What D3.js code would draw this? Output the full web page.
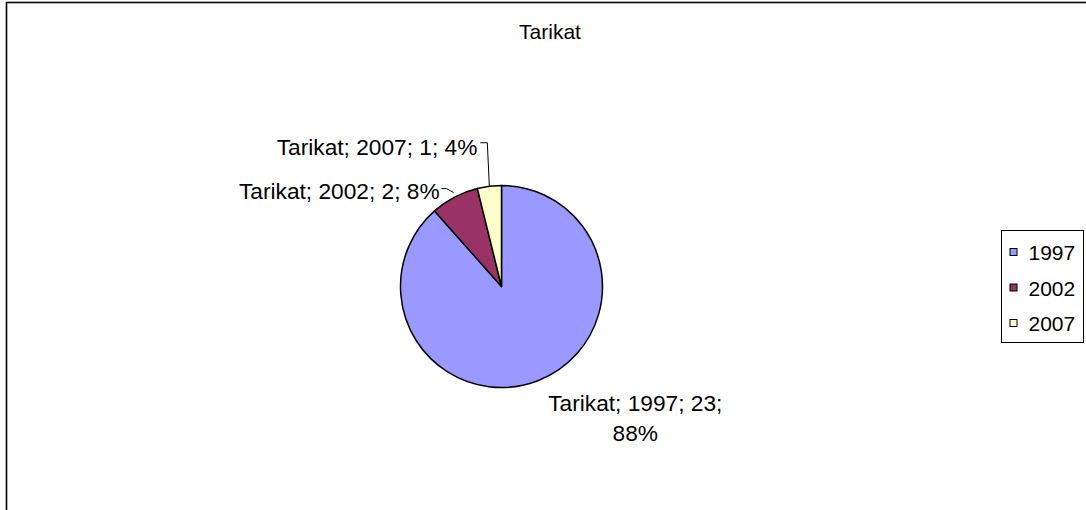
<!DOCTYPE html>
<html>
<head>
<meta charset="utf-8">
<script src="https://cdn.jsdelivr.net/npm/d3@7"></script>
<style>
  html, body { margin: 0; padding: 0; background: #fff; }
  svg { display: block; font-family: "Liberation Sans", Arial, sans-serif; }
</style>
</head>
<body>
<svg id="chart" width="1086" height="510"></svg>
<script>
// ---- data ----
const chartTitle = "Tarikat";
const seriesName = "Tarikat";
const categories = ["1997", "2002", "2007"];
const values = [23, 2, 1];
const colors = ["#9999FF", "#993366", "#FFFFCC"];

// ---- layout ----
const W = 1086, H = 510;
const cx = 501.5, cy = 286.5, R = 101;
const svg = d3.select("#chart");

// chart frame (extends beyond window on right/bottom)
svg.append("rect")
  .attr("x", 6.5).attr("y", 2.5)
  .attr("width", W + 40).attr("height", H + 40)
  .attr("fill", "#fff").attr("stroke", "#000").attr("stroke-width", 1.6);

// title
svg.append("text")
  .attr("x", 550).attr("y", 38.5)
  .attr("text-anchor", "middle")
  .attr("font-size", 21)
  .attr("fill", "#000")
  .text(chartTitle);

const total = d3.sum(values);
const data = categories.map((c, i) => ({ cat: c, value: values[i], color: colors[i] }));
const pie = d3.pie().value(d => d.value).sort(null);
const arcs = pie(data);
const arc = d3.arc().innerRadius(0).outerRadius(R);

const g = svg.append("g").attr("transform", `translate(${cx},${cy})`);
g.selectAll("path").data(arcs).enter().append("path")
  .attr("d", arc)
  .attr("fill", d => d.data.color)
  .attr("stroke", "#000")
  .attr("stroke-width", 1.5)
  .attr("stroke-linejoin", "round");

// data labels
const labelFont = 22.7;
const pct = v => Math.round(v / total * 100) + "%";
const edge = (a, r) => [cx + r * Math.sin(a), cy - r * Math.cos(a)];

// label placement offsets relative to slice's outer-edge midpoint
const labelLayout = [
  { dx: 98, dy: 30, anchor: "middle", lines: 2, leader: null },
  { dx: -15, dy: 1.5, anchor: "end", lines: 1, leader: [[2, -8.5], [7, -8.5], [-1, -4.5]] },
  { dx: -12, dy: -31.5, anchor: "end", lines: 1, leader: [[3, -43.5], [10, -43.5], [0, -0.5]] }
];

arcs.forEach((a, i) => {
  const mid = (a.startAngle + a.endAngle) / 2;
  const [ex, ey] = edge(mid, R);
  const L = labelLayout[i];
  const tx = ex + L.dx, ty = ey + L.dy;
  const t = svg.append("text")
    .attr("font-size", labelFont)
    .attr("text-anchor", L.anchor)
    .attr("fill", "#000");
  if (L.lines === 2) {
    t.append("tspan").attr("x", tx).attr("y", ty)
      .text(`${seriesName}; ${a.data.cat}; ${a.data.value};`);
    t.append("tspan").attr("x", tx).attr("y", ty + 30)
      .text(pct(a.data.value));
  } else {
    t.attr("x", tx).attr("y", ty)
      .text(`${seriesName}; ${a.data.cat}; ${a.data.value}; ${pct(a.data.value)}`);
  }
  if (L.leader) {
    const p = L.leader;
    const pts = [[tx + p[0][0], ey + p[0][1]], [tx + p[1][0], ey + p[1][1]], [ex + p[2][0], ey + p[2][1]]];
    svg.append("path")
      .attr("d", d3.line()(pts))
      .attr("fill", "none")
      .attr("stroke", "#000")
      .attr("stroke-width", 1);
  }
});

// legend
const legX = 1001.5, legY = 230.5, legW = 82, legH = 112;
svg.append("rect")
  .attr("x", legX).attr("y", legY).attr("width", legW).attr("height", legH)
  .attr("fill", "#fff").attr("stroke", "#000").attr("stroke-width", 1);

const legScale = d3.scalePoint().domain(categories).range([legY + 22, legY + 93]);
const lg = svg.append("g").selectAll("g").data(data).enter().append("g")
  .attr("transform", d => `translate(0,${legScale(d.cat)})`);
lg.append("rect")
  .attr("x", legX + 8.5).attr("y", -4).attr("width", 7).attr("height", 7)
  .attr("fill", d => d.color).attr("stroke", "#000").attr("stroke-width", 1);
lg.append("text")
  .attr("x", legX + 27).attr("y", 7.5)
  .attr("font-size", 21)
  .attr("fill", "#000")
  .text(d => d.cat);
</script>
</body>
</html>
